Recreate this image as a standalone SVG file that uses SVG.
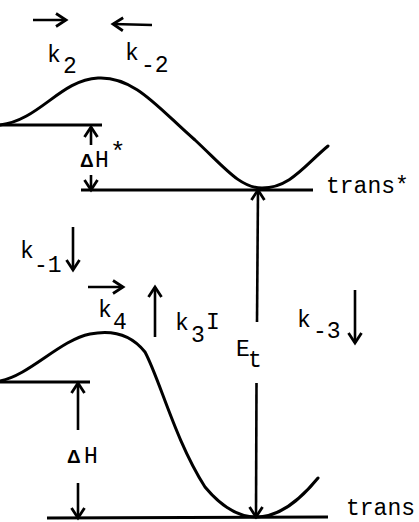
<svg xmlns="http://www.w3.org/2000/svg" width="419" height="522" viewBox="0 0 419 522">
<style>
.c{fill:none;stroke:#000;stroke-width:3;stroke-linecap:round;stroke-linejoin:round}
.l{fill:none;stroke:#000;stroke-width:3}
.a{fill:none;stroke:#000;stroke-width:2.6;marker-end:url(#ah)}
text{font-family:"Liberation Mono","DejaVu Sans Mono",monospace;font-size:23px;fill:#000}
.d{font-family:"Liberation Sans",sans-serif;font-weight:bold;font-size:19px}
.s{font-size:26px}
</style>
<defs>
<marker id="ah" markerUnits="userSpaceOnUse" markerWidth="24" markerHeight="24" viewBox="-12 -12 24 24" refX="0" refY="0" orient="auto" overflow="visible">
<path d="M-10,-6.5 L0,0 L-10,6.5" fill="none" stroke="#000" stroke-width="2.8" stroke-linejoin="miter"/>
</marker>
</defs>
<rect width="419" height="522" fill="#fff"/>
<g id="upper-surface">
<path class="c" d="M0,125 C40,120 60,80 98,78 C135,76 160,110 195,140 C225,168 240,188 262,188 C290,188 305,165 328,146"/>
<line class="l" x1="0" y1="125" x2="102" y2="125"/>
<line class="l" x1="81" y1="190" x2="313" y2="190"/>
</g>
<g id="lower-surface">
<path class="c" d="M0,381 C30,375 60,340 90,334 C110,330 130,333 145,352 C160,380 175,440 205,487 C220,505 238,517 256,517 C280,517 300,500 318,478"/>
<line class="l" x1="0" y1="382" x2="90" y2="382"/>
<line class="l" x1="47" y1="518" x2="328" y2="517"/>
</g>
<g id="connectors">
<line class="a" x1="33" y1="20" x2="66" y2="20"/>
<line class="a" x1="152" y1="25" x2="113" y2="24"/>
<line class="a" x1="91" y1="145" x2="91" y2="127"/>
<line class="a" x1="91" y1="175" x2="91" y2="190"/>
<line class="a" x1="257" y1="322" x2="258" y2="190"/>
<line class="a" x1="73" y1="227" x2="73" y2="270"/>
<line class="a" x1="88" y1="287" x2="123" y2="287"/>
<line class="a" x1="155" y1="337" x2="155" y2="287"/>
<line class="a" x1="355" y1="290" x2="355" y2="343"/>
<line class="a" x1="78" y1="430" x2="78" y2="383"/>
<line class="a" x1="78" y1="483" x2="78" y2="518"/>
<line class="a" x1="256.5" y1="383" x2="256" y2="517"/>
</g>
<g id="labels">
<text x="47" y="62">k<tspan x="63" y="73">2</tspan></text>
<text x="125" y="60">k<tspan x="141" y="72">-2</tspan></text>
<text class="d" x="80" y="167">Δ</text>
<text x="95" y="167">H<tspan class="s" x="110" y="160">*</tspan></text>
<text x="326" y="193">trans*</text>
<text x="20" y="258">k<tspan x="34" y="272">-1</tspan></text>
<text x="98" y="317">k<tspan x="113" y="329">4</tspan></text>
<text x="175" y="330">k<tspan x="191" y="342">3</tspan><tspan x="206" y="329">I</tspan></text>
<text x="236" y="356">E<tspan x="248" y="367">t</tspan></text>
<text x="297" y="327">k<tspan x="313" y="338">-3</tspan></text>
<text class="d" x="67" y="463">Δ</text>
<text x="84" y="463">H</text>
<text x="346" y="515">trans</text>
</g>
</svg>
